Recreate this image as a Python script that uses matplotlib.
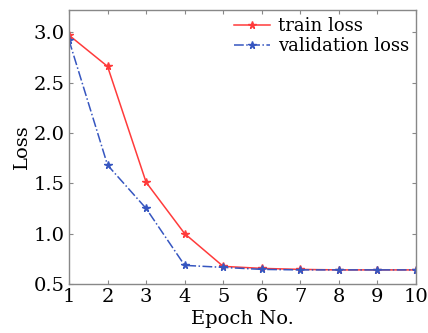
import matplotlib
matplotlib.use('Agg')
import matplotlib.pyplot as plt

# Data
epochs = [1, 2, 3, 4, 5, 6, 7, 8, 9, 10]
train_loss = [2.97, 2.66, 1.51, 1.00, 0.675, 0.655, 0.645, 0.64, 0.64, 0.64]
val_loss = [2.92, 1.68, 1.25, 0.685, 0.665, 0.645, 0.64, 0.64, 0.64, 0.64]
y_ticks = [0.5, 1.0, 1.5, 2.0, 2.5, 3.0]

plt.rcParams['font.family'] = ['DejaVu Serif']

fig = plt.figure(figsize=(4.28, 3.33), dpi=100)
ax = fig.add_axes([69 / 428, 1 - 284 / 333, (416 - 69) / 428, (284 - 10) / 333])

ax.plot(epochs, train_loss, color='#ff3b3b', linestyle='-', linewidth=1.1,
        marker='*', markersize=5.5, label='train loss')
ax.plot(epochs, val_loss, color='#3656c0', linestyle='-.', linewidth=1.1,
        marker='*', markersize=5.5, label='validation loss')

ax.set_xlim(1, 10)
ax.set_ylim(0.5, 3.22)
ax.set_xticks(epochs)
ax.set_yticks(y_ticks)
ax.set_yticklabels([f'{v:.1f}' for v in y_ticks])
ax.tick_params(direction='in', length=3, labelsize=14, top=True, right=True,
               color='#888888', pad=3)
for spine in ax.spines.values():
    spine.set_color('#888888')
    spine.set_linewidth(1.0)

ax.set_xlabel('Epoch No.', fontsize=14, labelpad=3)
ax.set_ylabel('Loss', fontsize=14, labelpad=2)

ax.legend(loc='upper right', frameon=False, fontsize=13, handlelength=2.0,
          handletextpad=0.4, borderaxespad=0.0, labelspacing=0.1)

fig.savefig('out.png', dpi=100)
plt.close(fig)
